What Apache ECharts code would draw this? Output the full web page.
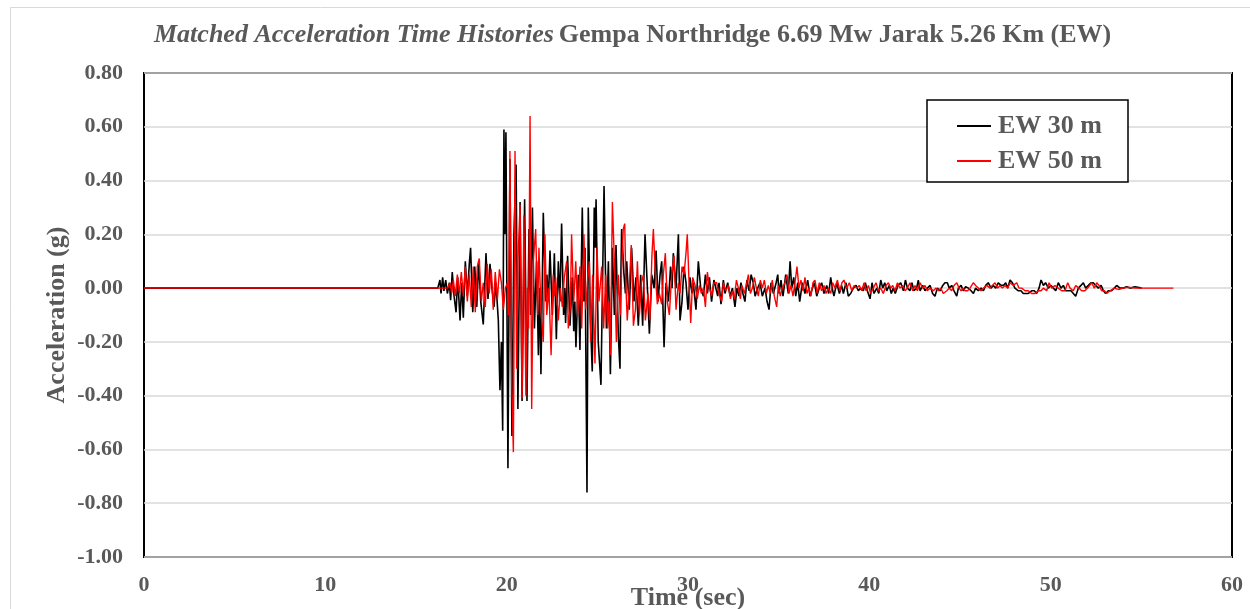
<!DOCTYPE html>
<html><head><meta charset="utf-8">
<script src="https://cdn.jsdelivr.net/npm/echarts@6/dist/echarts.min.js"></script>
<style>html,body{margin:0;padding:0;background:#fff}#c{width:1250px;height:609px}</style>
</head><body><div id="c"></div>
<script>
// EW 30 m
const time30 = [0,16.2,16.32,16.38,16.47,16.54,16.64,16.73,16.84,16.91,17.00,17.10,17.21,17.30,17.43,17.52,17.61,17.72,17.83,17.94,18.01,18.13,18.24,18.35,18.46,18.57,18.71,18.86,18.97,19.08,19.19,19.30,19.41,19.54,19.63,19.71,19.78,19.85,19.90,19.96,20.07,20.18,20.29,20.40,20.52,20.62,20.74,20.85,20.99,21.12,21.23,21.32,21.42,21.53,21.65,21.75,21.82,21.89,22.02,22.15,22.22,22.30,22.39,22.52,22.63,22.74,22.85,22.94,23.03,23.14,23.20,23.25,23.36,23.49,23.62,23.70,23.76,23.82,23.95,24.04,24.17,24.25,24.32,24.43,24.50,24.61,24.72,24.83,24.88,24.93,25.05,25.20,25.37,25.50,25.61,25.72,25.83,25.94,26.03,26.16,26.25,26.29,26.34,26.47,26.55,26.62,26.76,26.89,27.02,27.13,27.26,27.39,27.50,27.63,27.76,27.87,28.00,28.13,28.24,28.35,28.46,28.55,28.68,28.79,28.92,29.04,29.12,29.19,29.34,29.47,29.56,29.67,29.78,29.89,30.00,30.11,30.22,30.29,30.44,30.57,30.70,30.85,30.96,31.07,31.18,31.30,31.43,31.64,31.71,31.82,31.95,32.04,32.19,32.32,32.45,32.59,32.70,32.81,32.92,33.03,33.14,33.25,33.37,33.48,33.60,33.70,33.84,33.97,34.10,34.25,34.36,34.47,34.58,34.71,34.86,34.95,35.02,35.13,35.24,35.39,35.53,35.63,35.72,35.83,35.94,36.05,36.16,36.31,36.45,36.60,36.73,36.86,36.97,37.10,37.24,37.37,37.50,37.65,37.76,37.87,37.98,38.05,38.20,38.35,38.47,38.57,38.71,38.84,38.97,39.12,39.27,39.39,39.52,39.67,39.78,39.89,40.04,40.15,40.26,40.41,40.52,40.63,40.74,40.85,40.96,41.10,41.21,41.32,41.43,41.58,41.73,41.88,41.99,42.10,42.24,42.35,42.46,42.61,42.70,42.80,42.94,43.07,43.20,43.35,43.49,43.62,43.75,43.90,44.05,44.17,44.30,44.41,44.54,44.67,44.82,44.91,45.06,45.18,45.31,45.46,45.61,45.74,45.86,46.01,46.16,46.29,46.42,46.56,46.71,46.84,46.97,47.11,47.26,47.39,47.52,47.63,47.76,47.89,48.03,48.22,48.36,48.49,48.62,48.77,48.95,49.10,49.23,49.36,49.47,49.60,49.72,49.87,50.02,50.15,50.28,50.42,50.57,50.70,50.83,50.98,51.12,51.25,51.38,51.53,51.67,51.80,51.93,52.08,52.22,52.35,52.48,52.63,52.78,52.91,53.03,53.18,53.36,53.51,53.64,53.82,54.01,54.19,54.38,54.65,55.02];
const acc30 = [0,0,0.03,-0.02,0.04,-0.01,0.03,-0.02,0.02,-0.045,0.06,-0.03,-0.09,0.04,-0.12,0.02,-0.11,0.10,-0.03,0.09,0.15,-0.09,0.08,-0.07,0.10,-0.05,-0.135,0.13,-0.04,0.09,0.0,-0.07,0.02,-0.12,-0.38,-0.20,-0.53,0.59,0.20,0.58,-0.67,0.48,-0.55,0.20,0.46,-0.45,0.32,-0.42,0.33,-0.42,0.22,-0.10,0.30,-0.15,0.10,-0.25,0.0,-0.32,0.28,-0.05,0.05,-0.05,0.14,-0.10,0.13,-0.19,0.10,-0.05,0.24,-0.10,0.0,-0.13,0.12,-0.14,0.04,-0.16,-0.05,-0.22,0.05,-0.23,0.30,-0.05,0.15,-0.76,0.30,-0.10,-0.31,0.30,0.15,0.33,-0.20,-0.36,0.38,-0.15,0.10,-0.32,0.15,-0.10,0.16,-0.18,-0.30,0.0,0.22,0.05,-0.02,0.10,-0.08,0.15,-0.05,0.04,-0.14,0.05,-0.14,0.20,0.0,-0.17,0.05,0.0,0.14,-0.05,0.05,0.10,-0.22,0.02,-0.05,0.08,0.0,0.13,0.0,0.20,-0.12,-0.05,0.08,0.02,-0.08,0.04,-0.02,0.02,-0.08,0.10,0.0,-0.03,0.05,-0.02,0.04,-0.05,0.03,-0.03,0.02,-0.06,0.03,-0.02,0.02,-0.03,0.0,-0.07,0.0,-0.03,0.02,-0.02,-0.05,0.03,-0.01,0.05,0.02,-0.03,0.0,0.02,-0.03,0.0,-0.05,-0.08,0.02,-0.02,0.02,0.05,-0.02,0.03,-0.03,0.05,-0.02,0.10,0.0,0.04,-0.03,0.02,-0.05,0.02,-0.02,0.03,-0.03,0.0,0.02,-0.03,0.0,0.02,-0.02,0.01,-0.02,0.04,-0.01,-0.03,0.02,-0.02,0.01,-0.02,0.02,-0.03,-0.02,0.0,0.01,-0.01,0.0,-0.01,0.02,-0.01,-0.04,0.02,-0.02,0.0,-0.02,0.03,0.0,0.02,-0.01,0.01,-0.02,0.0,-0.02,0.01,0.02,-0.01,0.03,0.0,-0.01,0.02,-0.01,0.0,0.03,-0.01,0.01,-0.01,0.0,0.01,-0.02,-0.03,0.0,-0.01,0.01,0.02,0.02,0.0,0.01,-0.01,-0.03,0.0,0.01,-0.01,0.005,0.0,-0.01,-0.02,0.0,-0.01,0.0,-0.01,0.01,0.02,0.0,0.01,0.0,0.02,0.01,0.01,0.02,0.0,0.03,0.02,0.0,-0.01,-0.01,-0.02,-0.02,-0.02,-0.01,-0.01,-0.02,0.0,0.03,0.01,0.02,0.0,0.01,0.0,-0.01,0.02,0.0,0.01,-0.01,-0.01,-0.01,-0.02,-0.03,0.0,0.01,0.02,0.0,0.01,0.02,0.02,0.01,0.0,0.01,-0.01,-0.02,-0.01,-0.01,0.0,0.01,0.0,0.0,0.005,0.0,0.005,0.0];
// EW 50 m
const time50 = [0,16.75,16.88,16.97,17.06,17.17,17.28,17.39,17.50,17.61,17.72,17.83,17.94,18.05,18.16,18.27,18.38,18.49,18.60,18.71,18.82,18.93,19.04,19.15,19.26,19.37,19.49,19.60,19.71,19.82,19.93,20.04,20.11,20.18,20.28,20.37,20.46,20.55,20.62,20.74,20.85,20.95,21.06,21.14,21.21,21.29,21.38,21.47,21.60,21.71,21.78,21.89,22.02,22.11,22.21,22.33,22.45,22.57,22.65,22.70,22.85,22.96,23.07,23.18,23.31,23.40,23.51,23.58,23.70,23.81,23.92,24.04,24.14,24.26,24.36,24.45,24.56,24.63,24.74,24.87,24.98,25.09,25.24,25.35,25.46,25.57,25.64,25.72,25.83,25.94,26.05,26.16,26.27,26.34,26.43,26.51,26.58,26.65,26.76,26.87,26.99,27.10,27.21,27.32,27.43,27.54,27.65,27.79,27.90,28.01,28.09,28.20,28.31,28.42,28.55,28.64,28.75,28.86,28.97,29.10,29.23,29.34,29.47,29.56,29.67,29.78,29.89,29.96,30.07,30.15,30.26,30.39,30.51,30.63,30.74,30.85,30.96,31.07,31.18,31.30,31.43,31.58,31.71,31.86,31.95,32.08,32.23,32.34,32.45,32.56,32.67,32.78,32.89,32.97,33.11,33.24,33.33,33.44,33.55,33.66,33.77,33.88,33.99,34.10,34.21,34.32,34.43,34.54,34.65,34.76,34.89,34.98,35.09,35.20,35.35,35.46,35.57,35.68,35.79,35.90,36.01,36.12,36.23,36.34,36.45,36.56,36.67,36.78,36.89,37.00,37.13,37.24,37.37,37.50,37.61,37.74,37.87,37.98,38.11,38.24,38.38,38.49,38.60,38.75,38.90,39.03,39.16,39.30,39.45,39.58,39.71,39.82,39.95,40.07,40.22,40.37,40.50,40.63,40.77,40.92,41.05,41.18,41.29,41.42,41.55,41.69,41.84,41.97,42.10,42.24,42.39,42.52,42.65,42.80,42.94,43.07,43.20,43.35,43.53,43.68,43.81,43.94,44.08,44.27,44.41,44.54,44.67,44.82,44.95,45.06,45.18,45.28,45.42,45.55,45.74,45.86,46.01,46.16,46.29,46.47,46.66,46.78,46.93,47.08,47.21,47.34,47.48,47.63,47.76,47.94,48.13,48.25,48.40,48.59,48.77,48.95,49.14,49.32,49.47,49.60,49.78,49.91,50.06,50.24,50.42,50.61,50.79,50.94,51.07,51.25,51.38,51.56,51.71,51.89,52.04,52.26,52.41,52.54,52.67,52.81,52.96,53.09,53.27,53.51,53.73,54.01,54.28,54.65,56.77];
const acc50 = [0,0,0.02,-0.02,0.03,-0.03,0.05,-0.02,0.06,-0.03,0.08,-0.05,0.05,-0.07,0.08,-0.09,0.08,0.11,-0.05,0.02,-0.07,0.09,-0.02,0.07,-0.08,0.06,-0.04,0.07,0.02,-0.08,0.0,0.02,-0.10,0.51,-0.35,-0.61,0.51,-0.30,0.10,0.31,-0.41,0.27,-0.40,0.0,-0.15,0.64,-0.45,0.10,0.22,-0.10,0.15,-0.08,-0.20,0.20,-0.10,0.0,-0.25,0.05,-0.03,0.04,-0.12,0.0,-0.07,0.04,0.10,-0.15,-0.07,0.20,-0.05,0.10,-0.10,0.08,-0.15,0.20,-0.08,0.02,0.10,-0.20,0.05,-0.28,0.15,-0.05,0.08,-0.15,0.05,-0.15,-0.05,-0.25,0.32,0.10,-0.20,0.05,-0.10,0.07,0.22,0.24,0.0,-0.12,0.0,0.16,-0.14,-0.08,0.10,-0.10,0.02,0.05,-0.12,-0.02,-0.12,0.12,0.22,0.05,-0.06,-0.02,-0.06,0.05,0.13,-0.05,-0.10,0.05,0.12,-0.08,0.02,-0.02,0.08,0.05,0.13,0.20,0.0,-0.13,0.04,0.01,-0.04,0.01,-0.02,0.0,-0.07,0.06,0.0,-0.03,0.02,0.02,-0.02,-0.05,0.02,-0.01,0.01,-0.04,-0.01,-0.04,0.03,0.0,-0.04,0.01,-0.02,0.02,0.05,-0.02,0.0,0.04,0.0,-0.03,0.03,0.0,0.03,-0.02,0.01,-0.02,0.03,-0.03,-0.07,0.01,-0.03,0.0,0.02,0.05,-0.02,0.01,-0.03,0.02,0.08,0.0,0.03,-0.01,0.04,-0.02,0.0,-0.03,0.02,0.03,-0.02,0.02,-0.01,0.01,-0.02,0.0,-0.02,0.02,0.0,0.03,-0.01,0.02,0.03,0.0,0.02,-0.01,0.01,0.0,0.01,-0.01,0.02,-0.01,0.01,-0.02,0.0,0.02,-0.01,0.0,-0.02,0.01,0.02,0.0,0.01,-0.01,0.02,0.0,0.01,-0.01,0.0,0.02,-0.01,0.01,-0.01,0.02,0.0,0.01,-0.01,0.0,-0.01,0.0,-0.01,0.0,-0.02,-0.01,0.0,-0.01,0.01,0.02,0.0,-0.01,0.0,-0.01,-0.01,0.0,0.02,0.01,0.0,-0.01,0.0,0.01,0.0,0.01,0.02,0.0,0.01,0.0,0.01,0.0,0.02,0.01,0.02,0.0,0.0,-0.01,-0.01,-0.02,-0.02,-0.01,-0.01,0.0,-0.01,0.02,0.0,0.01,0.0,-0.01,-0.01,0.02,0.0,-0.01,0.01,0.0,-0.01,-0.01,0.0,0.02,0.0,0.02,0.01,-0.01,-0.01,-0.02,-0.01,0.0,-0.005,0.0,0.003,0.0,0.0];

const xTicks = [0,10,20,30,40,50,60];
const yTicks = [-1.0,-0.8,-0.6,-0.4,-0.2,0.0,0.2,0.4,0.6,0.8];

const pairs = (t, a) => t.map((v, i) => [v, a[i]]);
const FONT = '"Liberation Serif","Times New Roman",serif';
const GREY = '#595959';

const chart = echarts.init(document.getElementById('c'), null, {renderer: 'canvas'});
chart.setOption({
  animation: false,
  backgroundColor: '#ffffff',
  title: {
    left: 154, top: 22, padding: 0,
    text: '{i|Matched Acceleration Time Histories} {b|Gempa Northridge 6.69 Mw Jarak 5.26 Km (EW)}',
    textStyle: {
      rich: {
        i: {fontFamily: FONT, fontStyle: 'italic', fontSize: 26, color: GREY},
        b: {fontFamily: FONT, fontWeight: 'bold', fontSize: 26, color: GREY}
      }
    }
  },
  legend: {
    left: 927, top: 100, orient: 'vertical',
    padding: [13, 26, 8, 30], itemGap: 9,
    itemWidth: 34, itemHeight: 2, icon: 'rect',
    backgroundColor: '#ffffff', borderColor: '#000000', borderWidth: 1.5,
    textStyle: {fontFamily: FONT, fontWeight: 'bold', fontSize: 26, color: GREY, padding: [0,0,0,2]},
    data: ['EW 30 m', 'EW 50 m']
  },
  grid: {left: 144, top: 73, width: 1088, height: 484, show: true, borderColor: '#000', borderWidth: 2,
    containLabel: false, outerBoundsMode: 'none'},
  xAxis: {
    type: 'value', min: xTicks[0], max: xTicks[xTicks.length-1], interval: 10,
    name: 'Time (sec)', nameLocation: 'middle', nameGap: 28, nameMoveOverlap: false,
    nameTextStyle: {fontFamily: FONT, fontWeight: 'bold', fontSize: 26, color: GREY},
    axisLine: {show: false}, axisTick: {show: false}, splitLine: {show: false},
    axisLabel: {fontFamily: FONT, fontWeight: 'bold', fontSize: 22, color: GREY, margin: 17}
  },
  yAxis: {
    type: 'value', min: yTicks[0], max: yTicks[yTicks.length-1], interval: 0.2,
    name: 'Acceleration (g)', nameLocation: 'middle', nameGap: 74, nameRotate: 90, nameMoveOverlap: false,
    nameTextStyle: {fontFamily: FONT, fontWeight: 'bold', fontSize: 26, color: GREY},
    axisLine: {show: false}, axisTick: {show: false},
    splitLine: {show: true, lineStyle: {color: '#d9d9d9', width: 1.5}},
    axisLabel: {fontFamily: FONT, fontWeight: 'bold', fontSize: 22, color: GREY, margin: 21,
      formatter: v => v.toFixed(2)}
  },
  graphic: [{type: 'rect', shape: {x: 10.5, y: 7.5, width: 1400, height: 800},
    style: {fill: null, stroke: '#d9d9d9', lineWidth: 1}, silent: true, z: -10}],
  series: [
    {name: 'EW 30 m', type: 'line', data: pairs(time30, acc30), symbol: 'none',
     color: '#000000', lineStyle: {color: '#000000', width: 1.6}},
    {name: 'EW 50 m', type: 'line', data: pairs(time50, acc50), symbol: 'none',
     color: '#ff0000', lineStyle: {color: '#ff0000', width: 1.4}}
  ]
});
</script></body></html>
